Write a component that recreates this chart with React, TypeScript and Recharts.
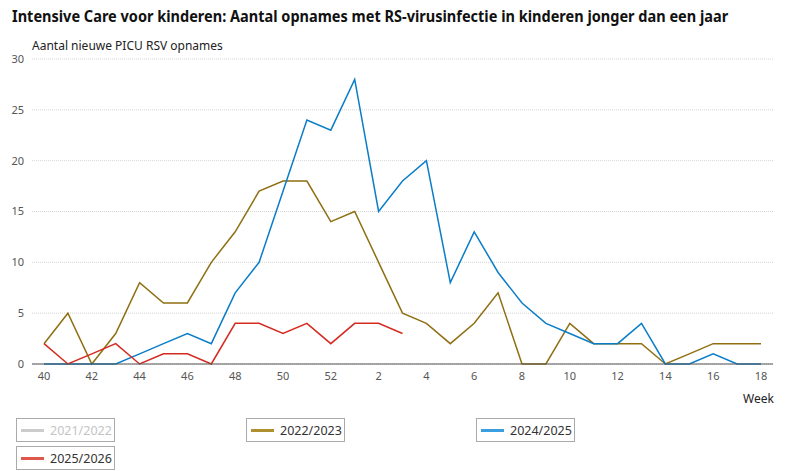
import { LineChart, Line, XAxis, YAxis, CartesianGrid } from "recharts";

document.body.style.margin = "0";

const weeks = [
  "40", "41", "42", "43", "44", "45", "46", "47", "48", "49", "50", "51", "52",
  "1", "2", "3", "4", "5", "6", "7", "8", "9", "10", "11", "12", "13", "14", "15", "16", "17", "18",
];

const s2022 = [2, 5, 0, 3, 8, 6, 6, 10, 13, 17, 18, 18, 14, 15, 10, 5, 4, 2, 4, 7, 0, 0, 4, 2, 2, 2, 0, 1, 2, 2, 2];
const s2024 = [0, 0, 0, 0, 1, 2, 3, 2, 7, 10, 17, 24, 23, 28, 15, 18, 20, 8, 13, 9, 6, 4, 3, 2, 2, 4, 0, 0, 1, 0, 0];
const s2025 = [2, 0, 1, 2, 0, 1, 1, 0, 4, 4, 3, 4, 2, 4, 4, 3];

const yTicks = [0, 5, 10, 15, 20, 25, 30];

const data = weeks.map((w, i) => ({
  week: w,
  s2022: s2022[i],
  s2024: s2024[i],
  s2025: i < s2025.length ? s2025[i] : null,
}));

const legendItems = [
  { label: "2021/2022", color: "#cccccc", text: "#c4c4c4", x: 16, y: 418 },
  { label: "2022/2023", color: "#b0902e", text: "#333", x: 246, y: 418 },
  { label: "2024/2025", color: "#3a9ee0", text: "#333", x: 476, y: 418 },
  { label: "2025/2026", color: "#e0584d", text: "#333", x: 16, y: 446 },
];

const font = "'Noto Sans', sans-serif";

export default function App() {
  return (
    <div style={{ position: "relative", width: 785, height: 471, fontFamily: font, background: "#fff", overflow: "hidden" }}>
      <div
        style={{
          position: "absolute",
          left: 12,
          top: 4,
          fontSize: 16.5,
          fontWeight: 700,
          color: "#111",
          whiteSpace: "nowrap",
          transform: "scaleX(0.88)",
          transformOrigin: "left top",
        }}
      >
        Intensive Care voor kinderen: Aantal opnames met RS-virusinfectie in kinderen jonger dan een jaar
      </div>
      <div style={{ position: "absolute", left: 32, top: 37, fontSize: 12, color: "#222" }}>
        Aantal nieuwe PICU RSV opnames
      </div>
      <div style={{ position: "absolute", left: 743, top: 390, fontSize: 12, color: "#222" }}>Week</div>
      <div style={{ position: "absolute", left: 0, top: 0 }}>
        <LineChart width={785} height={400} data={data} margin={{ top: 59, right: 12, left: 0, bottom: 6 }}>
          <CartesianGrid vertical={false} stroke="#d4d4d4" strokeDasharray="1 1" />
          <XAxis
            dataKey="week"
            interval={1}
            padding={{ left: 12, right: 12 }}
            tickLine={false}
            axisLine={{ stroke: "#555" }}
            tick={{ fontSize: 11, fill: "#555", fontFamily: font }}
            height={30}
          />
          <YAxis
            domain={[0, 30]}
            ticks={yTicks}
            width={32}
            axisLine={false}
            tickLine={false}
            tick={{ fontSize: 11, fill: "#555", fontFamily: font }}
          />
          <Line type="linear" dataKey="s2022" stroke="#8f6f12" strokeWidth={1.5} dot={false} isAnimationActive={false} />
          <Line type="linear" dataKey="s2024" stroke="#0a7dc8" strokeWidth={1.5} dot={false} isAnimationActive={false} />
          <Line type="linear" dataKey="s2025" stroke="#d42a20" strokeWidth={1.5} dot={false} isAnimationActive={false} />
        </LineChart>
      </div>
      {legendItems.map((it) => (
        <div
          key={it.label}
          style={{
            position: "absolute",
            left: it.x,
            top: it.y,
            width: 97,
            height: 22,
            border: "1px solid #aaa",
            display: "flex",
            alignItems: "center",
            fontSize: 12.5,
            color: it.text,
          }}
        >
          <span style={{ display: "inline-block", width: 23, height: 3, background: it.color, marginLeft: 4, marginRight: 6 }} />
          {it.label}
        </div>
      ))}
    </div>
  );
}
